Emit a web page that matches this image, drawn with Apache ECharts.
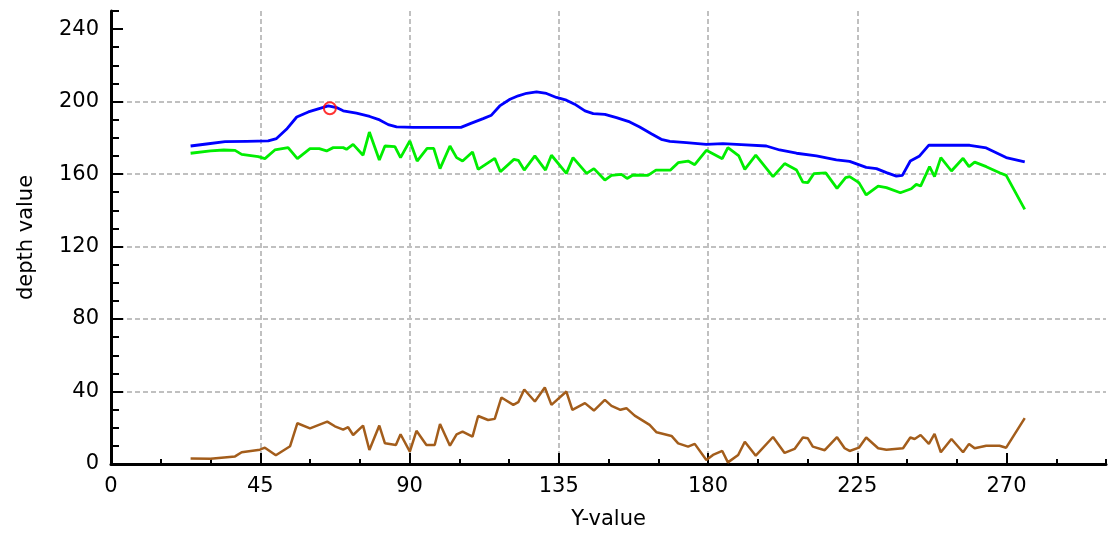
<!DOCTYPE html>
<html>
<head>
<meta charset="utf-8">
<script src="https://cdn.jsdelivr.net/npm/echarts@6/dist/echarts.min.js"></script>
<style>
  html, body { margin: 0; padding: 0; background: #fff; }
  #main { width: 1108px; height: 538px; }
</style>
</head>
<body>
<div id="main"></div>
<script>
// points, [Y-value, depth value]
var blueLine = [
    [24, 175.5], [28.8, 176.6], [34.4, 177.9], [40.9, 178.1], [47.4, 178.3], [49.9, 179.6],
    [52.9, 184.7], [56, 191.5], [59.5, 194.3], [63, 196.3], [65.5, 197.6], [68, 196.7],
    [70, 194.9], [74, 193.6], [78, 191.8], [81, 189.9], [83.6, 187.3], [86.1, 186],
    [91.1, 185.8], [105.5, 185.8], [108.5, 188], [112.2, 190.6], [114.7, 192.5], [117.2, 197.6],
    [120.3, 201.3], [122.8, 203.2], [125.3, 204.6], [128.3, 205.4], [131.3, 204.5], [134.3, 202.3],
    [137.3, 200.8], [139.8, 198.6], [142.9, 194.9], [145.4, 193.4], [148.9, 193], [152.4, 191.2],
    [156.4, 188.8], [159.4, 186], [162.9, 182.3], [165.9, 179.2], [168.5, 178.1], [173.5, 177.4],
    [179.5, 176.4], [184.5, 176.8], [190, 176.3], [197.6, 175.5], [201.6, 173.3], [206.7, 171.5],
    [212.7, 170], [218.7, 167.8], [222.7, 167], [227.7, 163.7], [230.8, 163], [233.8, 160.8],
    [236.8, 158.9], [238.6, 159.3], [241, 167.2], [243.8, 170], [246.6, 176], [258.9, 175.9],
    [263.9, 174.4], [269.9, 169.1], [275.5, 166.7]
];

var greenLine = [
    [24, 171.5], [30, 172.8], [34, 173.3], [37.4, 173.1], [39.4, 170.9], [44.4, 169.6],
    [46.4, 168.5], [49.4, 173.3], [53.4, 174.6], [56.2, 168.5], [60, 174], [62.8, 174],
    [65, 172.8], [67, 174.6], [70, 174.6], [71, 173.7], [73, 176.4], [76, 170.4],
    [77.9, 183.2], [80.9, 167.8], [82.6, 175.5], [85.6, 175.2], [87.3, 169.1], [90.1, 178.3],
    [92.3, 167.2], [95.3, 174.2], [97.3, 174.2], [99.2, 163], [102.2, 175.5], [104.2, 169.1],
    [106, 167.2], [109, 172.2], [110.7, 162.6], [115.7, 168.7], [117.4, 161.3], [121.5, 168.1],
    [122.8, 167.6], [124.6, 162.2], [127.8, 170], [131, 162.2], [132.8, 170.4], [137.3, 160.4],
    [139.3, 169.1], [143.4, 160.4], [145.6, 163], [148.9, 156.7], [150.9, 159.3], [153.9, 159.8],
    [155.6, 157.6], [157.4, 159.5], [161.9, 159.3], [164.3, 162.2], [168.7, 162.2], [171, 166.3],
    [174, 167.2], [176, 165.2], [179.5, 173.1], [184.3, 168.5], [186, 174.6], [189.3, 170],
    [191.1, 162.6], [194.4, 170.5], [199.6, 158.6], [203.1, 165.8], [206.7, 162.2], [208.6, 155.6],
    [210.1, 155.3], [211.9, 160.2], [215.5, 160.7], [218.9, 152.1], [221.5, 158], [222.7, 158.6],
    [225.5, 155.3], [227.7, 148.5], [231.3, 153.4], [233.8, 152.5], [238, 149.7], [241.3, 151.9],
    [242.8, 154.3], [244.1, 153.4], [246.8, 164.1], [248.3, 158.6], [250.2, 169.1], [253.4, 161.7],
    [256.9, 168.7], [258.7, 164.1], [260.4, 166.6], [263.9, 164.1], [267.9, 160.7], [269.9, 159.3],
    [275.5, 140.5]
];

var brownLine = [
    [24, 3.1], [30, 2.9], [37.4, 4.2], [39.4, 6.5], [44.9, 7.9], [46.4, 9],
    [49.7, 4.8], [54, 9.8], [56.2, 22.5], [60, 19.7], [65.2, 23.4], [67.5, 20.8],
    [70, 19], [71.5, 20.3], [73, 16], [76, 21.2], [77.9, 7.7], [80.9, 21.2],
    [82.6, 11.4], [85.9, 10.5], [87.3, 16.4], [90.1, 6.8], [92.1, 18.3], [95.1, 10.5],
    [97.6, 10.5], [99.2, 22.1], [102.2, 10.1], [104.2, 16.4], [106, 17.9], [109, 15.1],
    [110.7, 26.5], [113.7, 24.3], [115.7, 24.9], [117.7, 36.7], [121.3, 32.6], [122.8, 34.1],
    [124.6, 41.1], [127.8, 34.5], [130.8, 42.2], [132.8, 32.6], [137.3, 40], [139.1, 29.9],
    [142.9, 33.6], [145.6, 29.5], [148.9, 35.4], [150.9, 32.1], [153.6, 29.9], [155.4, 30.8],
    [157.9, 26.7], [162.4, 21.6], [164.5, 17.5], [169, 15.5], [171, 11.4], [174, 9.6],
    [176, 11.1], [179.5, 2.2], [181.5, 5], [184.3, 7.2], [186, 0.9], [189.1, 5],
    [191.1, 12.3], [194.4, 4.6], [199.6, 14.9], [203.1, 6.1], [206.1, 8.3], [208.6, 14.6],
    [210.1, 14.2], [211.6, 9.6], [215.2, 7.6], [218.9, 14.8], [221.2, 8.7], [222.7, 7.2],
    [225.5, 9], [227.7, 14.6], [231.3, 8.7], [233.8, 7.9], [238.8, 8.7], [241, 14.6],
    [242.3, 13.8], [244.1, 16], [246.6, 11.1], [248.3, 16.6], [250.2, 6.5], [253.4, 13.8],
    [256.9, 6.5], [258.7, 11.1], [260.4, 8.7], [263.9, 10.1], [267.9, 10.1], [269.9, 9],
    [275.5, 25.3]
];

var markedPoint = [[66, 196.3]];

var xTicks = [0, 45, 90, 135, 180, 225, 270];
var yTicks = [0, 40, 80, 120, 160, 200, 240];

var font = "'DejaVu Sans', Verdana, sans-serif";
var gridLine = { show: true, showMinLine: false, showMaxLine: false, lineStyle: { color: '#c0c0c0', width: 2, type: [5, 3] } };

let chart = echarts.init(document.getElementById('main'));

let option = {
    animation: false,
    backgroundColor: '#fff',
    grid: {
        left: 111,
        right: 2,
        top: 11,
        bottom: 74,
        outerBoundsMode: 'none',
        containLabel: false
    },
    xAxis: [
        {
            // major ticks, labels and grid
            type: 'value',
            position: 'bottom',
            min: 0,
            max: 300,
            interval: 45,
            name: 'Y-value',
            nameLocation: 'middle',
            nameGap: 45,
            nameTextStyle: { color: '#000', fontSize: 21, fontFamily: font },
            axisLine: { onZero: false, lineStyle: { color: '#000', width: 3 } },
            axisTick: { inside: true, length: 11, customValues: xTicks, lineStyle: { color: '#000', width: 2 } },
            axisLabel: { color: '#000', fontSize: 21, fontFamily: font, margin: 12, customValues: xTicks },
            splitLine: gridLine
        },
        {
            // minor ticks
            type: 'value',
            position: 'bottom',
            min: 0,
            max: 300,
            interval: 15,
            axisLine: { show: false, onZero: false },
            axisTick: { inside: true, length: 5, lineStyle: { color: '#000', width: 2 } },
            axisLabel: { show: false },
            splitLine: { show: false }
        }
    ],
    yAxis: [
        {
            type: 'value',
            position: 'left',
            min: 0,
            max: 250,
            interval: 40,
            name: 'depth value',
            nameLocation: 'middle',
            nameGap: 74,
            nameTextStyle: { color: '#000', fontSize: 21, fontFamily: font },
            axisLine: { show: true, onZero: false, lineStyle: { color: '#000', width: 3 } },
            axisTick: { show: true, inside: true, length: 12, customValues: yTicks, lineStyle: { color: '#000', width: 2 } },
            axisLabel: { color: '#000', fontSize: 21, fontFamily: font, margin: 12, customValues: yTicks },
            splitLine: gridLine
        },
        {
            // minor ticks
            type: 'value',
            position: 'left',
            min: 0,
            max: 250,
            interval: 10,
            axisLine: { show: false, onZero: false },
            axisTick: { show: true, inside: true, length: 8, lineStyle: { color: '#000', width: 2 } },
            axisLabel: { show: false },
            splitLine: { show: false }
        }
    ],
    series: [
        {
            name: 'blue',
            type: 'line',
            data: blueLine,
            showSymbol: false,
            lineStyle: { color: '#0000ff', width: 2.8 },
            itemStyle: { color: '#0000ff' }
        },
        {
            name: 'green',
            type: 'line',
            data: greenLine,
            showSymbol: false,
            lineStyle: { color: '#00ee00', width: 2.8 },
            itemStyle: { color: '#00ee00' }
        },
        {
            name: 'brown',
            type: 'line',
            data: brownLine,
            showSymbol: false,
            lineStyle: { color: '#a35d1b', width: 2.5 },
            itemStyle: { color: '#a35d1b' }
        },
        {
            name: 'marked',
            type: 'scatter',
            data: markedPoint,
            symbol: 'circle',
            symbolSize: 12,
            z: 5,
            itemStyle: { color: 'rgba(0,0,0,0)', borderColor: '#ff0000', borderWidth: 2 }
        }
    ]
};

chart.setOption(option);
</script>
</body>
</html>
